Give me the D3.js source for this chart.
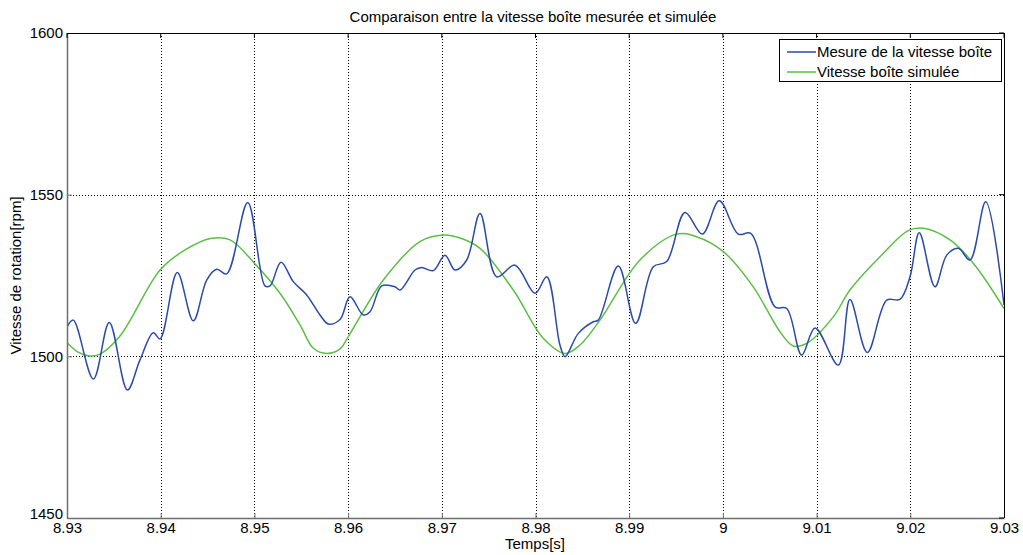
<!DOCTYPE html>
<html>
<head>
<meta charset="utf-8">
<script src="https://cdn.jsdelivr.net/npm/d3@7"></script>
<style>
  body { margin: 0; background: #fff; }
  text { font-family: "Liberation Sans", Arial, sans-serif; fill: #000; }
</style>
</head>
<body>
<svg width="1023" height="555"></svg>
<script>
// measured gearbox speed (time [s], rpm)
const mesureT = [8.9300, 8.93067, 8.93281, 8.93451, 8.93644, 8.93779, 8.93921, 8.93993, 8.94177, 8.94348,
    8.94491, 8.94598, 8.94704, 8.94929, 8.95113, 8.95167, 8.95284, 8.95415, 8.95558, 8.95700,
    8.95789, 8.95914, 8.96020, 8.96162, 8.96234, 8.96359, 8.96500, 8.96554, 8.96714, 8.96785,
    8.96909, 8.97034, 8.97141, 8.97266, 8.97408, 8.97586, 8.97781, 8.97995, 8.98120, 8.98261,
    8.98315, 8.98457, 8.98617, 8.98670, 8.98884, 8.99069, 8.99257, 8.99400, 8.99595, 8.99780,
    8.99961, 9.00164, 9.00297, 9.00556, 9.00681, 9.00841, 9.00983, 9.01232, 9.01356, 9.01541,
    9.01748, 9.01889, 9.01997, 9.02096, 9.02263, 9.02389, 9.02512, 9.02637, 9.02805, 9.0300];
const mesureV = [1509.1, 1511.2, 1493.0, 1510.5, 1489.6, 1498.9, 1507.3, 1505.4, 1525.9, 1511.0,
    1523.6, 1526.9, 1525.5, 1547.6, 1521.8, 1521.8, 1529.1, 1523.1, 1519.0, 1512.8,
    1510.0, 1511.4, 1518.4, 1512.8, 1513.8, 1521.8, 1521.5, 1520.5, 1526.7, 1527.5,
    1526.5, 1531.3, 1526.7, 1529.8, 1544.2, 1524.6, 1528.2, 1519.5, 1524.6, 1503.5,
    1499.9, 1507.1, 1510.7, 1511.2, 1527.9, 1510.2, 1527.7, 1529.3, 1544.5, 1537.8,
    1548.1, 1537.8, 1538.0, 1515.3, 1514.8, 1500.4, 1508.8, 1497.3, 1517.6, 1501.2,
    1517.4, 1517.6, 1524.6, 1538.2, 1521.5, 1531.3, 1533.4, 1529.8, 1547.8, 1515.9];

// simulated gearbox speed
const simuleT = [8.9300, 8.93117, 8.93245, 8.93352, 8.93566, 8.93993, 8.94260, 8.94544, 8.94740, 8.95000,
    8.95273, 8.95487, 8.95629, 8.95772, 8.95914, 8.96002, 8.96376, 8.96767, 8.97016, 8.97194,
    8.97408, 8.97763, 8.98083, 8.98315, 8.98475, 8.98688, 8.99115, 8.99507, 8.99720, 9.00004,
    9.00324, 9.00609, 9.00751, 9.00894, 9.01178, 9.01356, 9.01676, 9.01978, 9.02139, 9.02424,
    9.02672, 9.0300];
const simuleV = [1504.3, 1501.3, 1500.1, 1500.7, 1506.3, 1526.7, 1532.9, 1536.5, 1536.0, 1528.8,
    1519.5, 1509.7, 1502.5, 1500.9, 1502.3, 1506.1, 1523.6, 1535.5, 1537.5, 1536.6,
    1533.4, 1520.5, 1505.6, 1500.9, 1503.5, 1511.2, 1529.8, 1537.8, 1537.0, 1532.4,
    1521.5, 1507.6, 1503.2, 1504.0, 1512.2, 1520.5, 1530.8, 1538.9, 1539.6, 1536.0,
    1528.8, 1514.8];

const xTicks = [8.93, 8.94, 8.95, 8.96, 8.97, 8.98, 8.99, 9.00, 9.01, 9.02, 9.03];
const yTicks = [1450, 1500, 1550, 1600];
const seriesNames = ['Mesure de la vitesse boîte', 'Vitesse boîte simulée'];
const seriesColors = ['#2b4ba8', '#5cbf45'];

const svg = d3.select('svg');
const pLeft = 67, pRight = 1004, pTop = 33, pBottom = 518;

const x = d3.scaleLinear().domain([8.93, 9.03]).range([pLeft, pRight]);
const y = d3.scaleLinear().domain([1450, 1600]).range([pBottom, pTop]);

// grid
const grid = svg.append('g').attr('stroke', '#000').attr('stroke-width', 1)
        .attr('stroke-dasharray', '1,2').attr('shape-rendering', 'crispEdges');
grid.selectAll('.gx').data(xTicks.slice(1, -1)).enter().append('line')
        .attr('x1', d => Math.round(x(d)) + 0.5).attr('x2', d => Math.round(x(d)) + 0.5)
        .attr('y1', pTop).attr('y2', pBottom);
grid.selectAll('.gy').data(yTicks.slice(1)).enter().append('line')
        .attr('y1', d => Math.round(y(d)) + 0.5).attr('y2', d => Math.round(y(d)) + 0.5)
        .attr('x1', pLeft).attr('x2', pRight);

// series
svg.append('clipPath').attr('id', 'clip').append('rect')
        .attr('x', pLeft).attr('y', pTop).attr('width', pRight - pLeft).attr('height', pBottom - pTop);

const line = d3.line().x(d => x(d[0])).y(d => y(d[1])).curve(d3.curveCatmullRom.alpha(0.5));
const plots = svg.append('g').attr('clip-path', 'url(#clip)');
plots.append('path').datum(d3.zip(simuleT, simuleV))
        .attr('fill', 'none').attr('stroke', seriesColors[1]).attr('stroke-width', 1.5).attr('d', line);
plots.append('path').datum(d3.zip(mesureT, mesureV))
        .attr('fill', 'none').attr('stroke', seriesColors[0]).attr('stroke-width', 1.5).attr('d', line);

// axes
const xAxis = svg.append('g').attr('transform', `translate(0,${pBottom})`)
        .call(d3.axisBottom(x).tickValues(xTicks).tickSizeInner(-5).tickSizeOuter(0).tickPadding(4)
                .tickFormat(d3.format('~g')));
const yAxis = svg.append('g').attr('transform', `translate(${pLeft},0)`)
        .call(d3.axisLeft(y).tickValues(yTicks).tickSizeInner(-5).tickSizeOuter(0).tickPadding(4)
                .tickFormat(d3.format('d')));
[xAxis, yAxis].forEach(a => {
    a.select('.domain').attr('stroke', '#6e6e6e').attr('stroke-width', 1.5);
    a.selectAll('.tick line').attr('stroke', '#6e6e6e');
    a.selectAll('text').attr('font-size', 15).attr('font-family', '"Liberation Sans", Arial, sans-serif');
});
yAxis.selectAll('text').attr('dy', '0.32em');
// lowest label sits just above the x labels
yAxis.selectAll('.tick').filter(d => d === 1450).select('text').attr('dy', '0.05em');

// top and right edges, with inward ticks
svg.append('line').attr('x1', pLeft).attr('x2', pRight).attr('y1', pTop + 0.5).attr('y2', pTop + 0.5)
        .attr('stroke', '#000');
svg.append('line').attr('x1', pRight + 0.5).attr('x2', pRight + 0.5).attr('y1', pTop).attr('y2', pBottom)
        .attr('stroke', '#000');
svg.selectAll('.tt').data(xTicks).enter().append('line')
        .attr('x1', d => x(d)).attr('x2', d => x(d)).attr('y1', pTop).attr('y2', pTop + 5).attr('stroke', '#000');
svg.selectAll('.tr').data(yTicks).enter().append('line')
        .attr('y1', d => y(d)).attr('y2', d => y(d)).attr('x1', pRight).attr('x2', pRight - 5).attr('stroke', '#000');

// titles
svg.append('text').attr('x', 533).attr('y', 22).attr('text-anchor', 'middle')
        .attr('font-size', 15).text('Comparaison entre la vitesse boîte mesurée et simulée');
svg.append('text').attr('x', 535).attr('y', 549).attr('text-anchor', 'middle')
        .attr('font-size', 15).text('Temps[s]');
svg.append('text').attr('transform', `translate(21,${(pTop + pBottom) / 2}) rotate(-90)`)
        .attr('text-anchor', 'middle').attr('font-size', 15).text('Vitesse de rotation[rpm]');

// legend
const legend = svg.append('g').attr('transform', 'translate(779,39)');
legend.append('rect').attr('x', 0.5).attr('y', 0.5).attr('width', 222).attr('height', 42)
        .attr('fill', '#fff').attr('stroke', '#000');
seriesNames.forEach((name, i) => {
    const ly = 13 + i * 20;
    legend.append('line').attr('x1', 8).attr('x2', 37).attr('y1', ly).attr('y2', ly)
            .attr('stroke', seriesColors[i]).attr('stroke-width', 1.5);
    legend.append('text').attr('x', 38).attr('y', ly).attr('dy', '0.35em')
            .attr('font-size', 15).text(name);
});
</script>
</body>
</html>
